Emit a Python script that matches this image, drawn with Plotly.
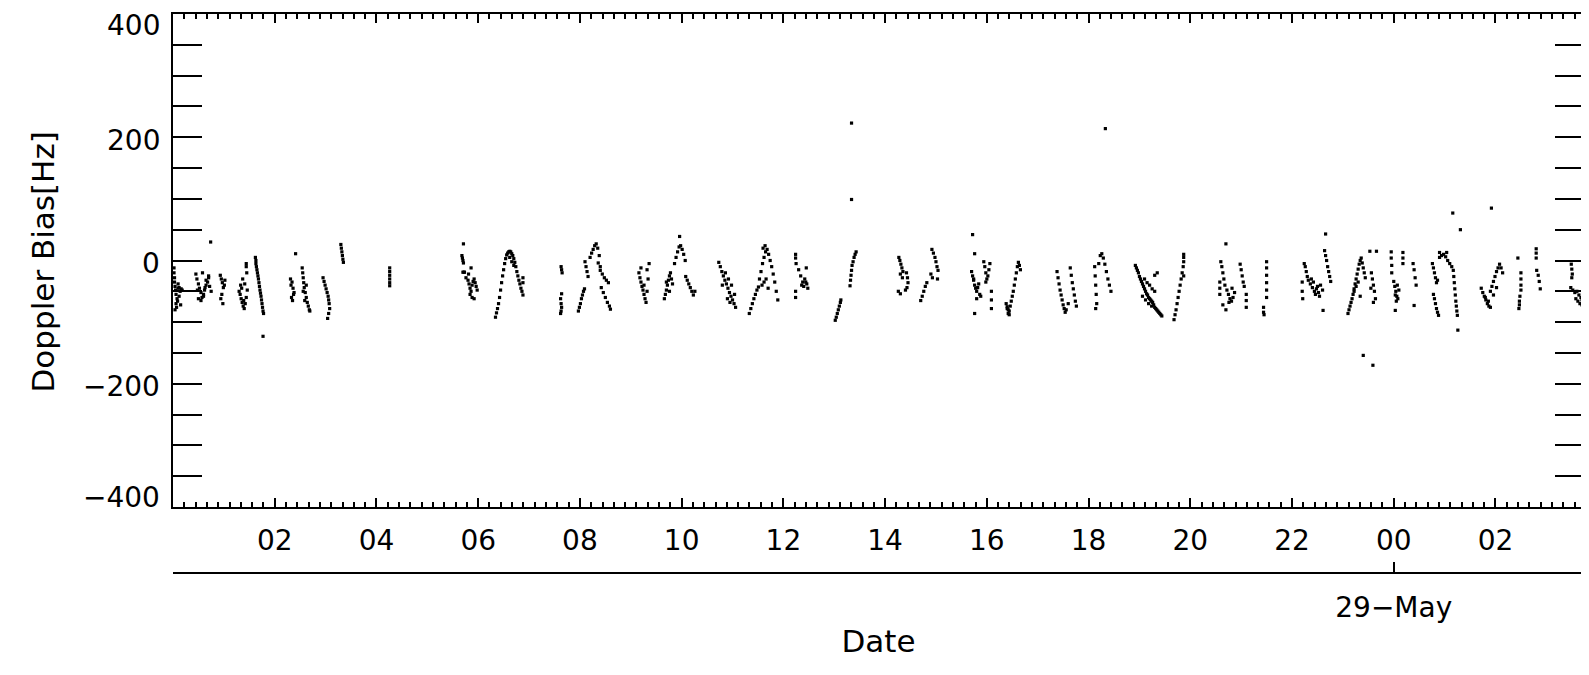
import plotly.graph_objects as go

# ---- data: hours since 28-May 00:00 UT, Doppler bias [Hz] ----
pA_t = [0.02,0.02,0.03,0.03,0.04,0.05,0.06,0.08,0.10,0.12,0.14,0.16,0.06,0.09,0.12,0.15,0.18,0.04,0.07,0.10]
pA_v = [-12,-20,-28,-35,-42,-48,-55,-62,-45,-44,-50,-46,-70,-66,-58,-72,-48,-80,-76,-38]
pB_t = [0.45,0.47,0.50,0.52,0.55,0.57,0.60,0.62,0.65,0.68,0.70,0.72,0.75,0.50,0.55,0.60,0.65,0.70,0.48,0.58,0.63,0.74]
pB_v = [-22,-30,-38,-45,-52,-60,-55,-48,-40,-35,-28,-42,-50,-62,-65,-58,-32,-25,-48,-20,-44,30]
pC_t = [0.93,0.95,0.97,0.99,1.01,1.02,0.96,0.94,0.98]
pC_v = [-24,-30,-36,-44,-40,-32,-55,-62,-70]
pD_t = [1.30,1.32,1.34,1.36,1.38,1.40,1.42,1.44,1.46,1.33,1.37,1.41,1.45,1.44,1.44,1.35,1.39]
pD_v = [-50,-55,-62,-68,-74,-78,-70,-60,-48,-40,-30,-38,-20,-10,-5,-45,-65]
pE_t = [1.62,1.63,1.63,1.64,1.65,1.66,1.67,1.68,1.69,1.70,1.71,1.72,1.73,1.74,1.75,1.76,1.77,1.78,1.77]
pE_v = [5,0,-5,-10,-15,-20,-25,-30,-36,-42,-48,-53,-58,-64,-70,-76,-82,-86,-123]
pF_t = [2.31,2.32,2.34,2.36,2.38,2.33,2.35,2.37,2.54,2.55,2.56,2.57,2.58,2.60,2.62,2.64,2.66,2.68,2.69,2.56,2.59,2.62,2.41]
pF_v = [-30,-40,-35,-45,-52,-60,-65,-55,-12,-20,-28,-36,-44,-52,-60,-68,-74,-80,-82,-50,-65,-40,11]
pG_t = [2.95,2.97,2.99,3.01,3.03,3.05,3.06,3.07,3.08,3.06,3.04]
pG_v = [-28,-34,-40,-46,-52,-58,-64,-70,-78,-86,-94]
pH_t = [3.30,3.31,3.32,3.33,3.34,3.35]
pH_v = [26,20,14,8,2,-3]
pI_t = [4.26,4.26,4.26,4.26,4.26,4.26]
pI_v = [-12,-18,-24,-30,-36,-41]
pJ_t = [5.68,5.69,5.70,5.71,5.72,5.70,5.73,5.76,5.80,5.82,5.84,5.86,5.88,5.90,5.92,5.94,5.96,5.98,5.84,5.88,5.92,5.81,5.86,5.71]
pJ_v = [8,4,0,-4,-19,-19,-19,-28,-32,-38,-45,-50,-40,-34,-30,-36,-42,-48,-55,-60,-62,-22,-12,27]
pK_t = [6.34,6.36,6.38,6.40,6.42,6.44,6.46,6.48,6.50,6.52,6.54,6.56,6.58,6.60,6.62,6.64,6.66,6.68,6.70,6.72,6.74,6.76,6.78,6.80,6.82,6.84,6.86,6.88,6.62,6.66,6.70,6.88,6.88]
pK_v = [-92,-85,-78,-70,-60,-48,-36,-25,-15,-5,3,9,12,14,15,14,11,8,3,-3,-10,-18,-25,-32,-38,-45,-50,-56,5,-2,-8,-28,-36]
pL_t = [7.63,7.64,7.65,7.64,7.62,7.63,7.64,7.63,7.62]
pL_v = [-10,-15,-20,-54,-62,-70,-76,-82,-86]
pM_t = [7.97,7.99,8.01,8.03,8.05,8.07,8.09,8.10,8.12,8.14,8.16,8.20,8.23,8.26,8.29,8.32,8.35,8.38,8.40,8.44,8.48,8.52,8.56,8.42,8.46,8.50,8.54,8.58,8.60,8.36,8.40]
pM_v = [-82,-76,-70,-62,-56,-50,-46,-2,-10,-18,-26,5,12,18,24,27,20,8,-16,-22,-28,-32,-36,-44,-52,-60,-68,-74,-79,-4,-10]
pN_t = [9.16,9.18,9.20,9.22,9.24,9.26,9.28,9.30,9.32,9.34,9.36,9.20,9.26,9.32]
pN_v = [-20,-28,-35,-42,-48,-55,-62,-68,-50,-30,-5,-12,-40,-15]
pO_t = [9.66,9.68,9.70,9.72,9.74,9.76,9.78,9.80,9.82,9.70,9.76,9.86,9.89,9.92,9.95,9.98,10.01,10.04,10.07,10.08,10.11,10.14,10.17,10.20,10.23,10.26,9.96]
pO_v = [-62,-55,-48,-40,-32,-25,-20,-30,-38,-35,-50,-5,5,14,22,24,18,10,0,-26,-32,-38,-44,-50,-56,-50,39]
pP_t = [10.73,10.76,10.79,10.82,10.85,10.88,10.91,10.94,10.97,11.00,11.03,11.06,10.80,10.86,10.92,10.98,11.04,10.90,10.95]
pP_v = [-3,-10,-18,-25,-32,-38,-45,-52,-58,-64,-70,-76,-40,-20,-30,-40,-55,-62,-68]
pQ_t = [11.33,11.36,11.39,11.42,11.45,11.48,11.51,11.53,11.56,11.59,11.62,11.65,11.68,11.71,11.74,11.77,11.80,11.83,11.86,11.89,11.58,11.62,11.66,11.70,11.60,11.64]
pQ_v = [-86,-78,-70,-62,-55,-48,-43,-30,-18,-5,5,14,18,10,0,-10,-22,-35,-50,-64,-40,-35,-30,-45,20,24]
pR_t = [12.24,12.24,12.25,12.30,12.34,12.38,12.42,12.46,12.48,12.36,12.40,12.44,12.24,12.24,12.45]
pR_v = [10,4,-5,-15,-25,-35,-30,-38,-45,-40,-42,-35,-50,-60,-12]
pS_t = [13.02,13.04,13.06,13.08,13.10,13.12,13.13]
pS_v = [-97,-92,-86,-80,-74,-68,-64]
pT_t = [13.31,13.32,13.33,13.34,13.35,13.37,13.39,13.41,13.43,13.34,13.34]
pT_v = [-41,-32,-24,-16,-8,-2,5,10,14,223,99]
pU_t = [14.27,14.29,14.31,14.33,14.35,14.30,14.34,14.26,14.30,14.42,14.44,14.45,14.43,14.40]
pU_v = [5,0,-6,-12,-18,-22,-28,-50,-54,-20,-28,-36,-44,-48]
pV_t = [14.70,14.73,14.76,14.79,14.82,14.92,14.95,14.98,15.00,15.02,15.04,14.90,14.93,15.03]
pV_v = [-65,-58,-50,-42,-36,18,12,5,-2,-10,-16,-22,-28,-30]
pW_t = [15.70,15.72,15.74,15.76,15.78,15.80,15.82,15.84,15.86,15.88,15.74,15.80,15.94,15.96,15.98,16.00,16.02,16.04,16.06,15.98,16.09,16.09,16.09,15.76,15.72,15.76]
pW_v = [-18,-25,-32,-40,-45,-50,-44,-38,-55,-58,-30,-62,-2,-10,-20,-30,-25,-15,-5,-35,-50,-64,-78,-86,42,11]
pX_t = [16.38,16.40,16.42,16.44,16.46,16.48,16.50,16.52,16.54,16.56,16.58,16.60,16.62,16.64,16.66,16.44,16.42,16.40]
pX_v = [-70,-78,-86,-82,-74,-66,-58,-50,-40,-30,-20,-10,-3,-8,-15,-88,-80,-75]
pY_t = [17.38,17.40,17.42,17.44,17.46,17.48,17.50,17.52,17.54,17.64,17.66,17.68,17.70,17.72,17.74,17.76,17.56,17.60]
pY_v = [-18,-28,-38,-48,-56,-64,-72,-78,-84,-12,-24,-36,-46,-56,-66,-74,-80,-70]
pZ_t = [18.12,18.13,18.14,18.15,18.16,18.20,18.23,18.26,18.29,18.32,18.35,18.38,18.41,18.44,18.14,18.33]
pZ_v = [-10,-25,-40,-55,-70,-5,8,11,4,-6,-18,-30,-40,-50,-78,214]
pAA_t = [18.92,18.94,18.96,18.98,19.00,19.02,19.04,19.06,19.08,19.10,19.12,19.14,19.16,19.18,19.20,19.22,19.24,19.26,19.28,19.30,19.32,19.34,19.36,19.38,19.40,19.42,19.44,19.10,19.15,19.20,19.25,19.30,19.06,19.12,19.18,19.24,19.30,19.35]
pAA_v = [-8,-12,-16,-20,-26,-30,-34,-38,-42,-46,-50,-54,-56,-60,-62,-64,-66,-68,-72,-76,-78,-80,-82,-84,-86,-88,-90,-30,-36,-40,-46,-50,-58,-64,-70,-74,-24,-20]
pAB_t = [19.68,19.70,19.72,19.74,19.76,19.78,19.80,19.82,19.84,19.86,19.87,19.87,19.87,19.87]
pAB_v = [-96,-88,-80,-70,-60,-50,-40,-30,-20,-10,-2,5,10,-25]
pAC_t = [20.60,20.62,20.64,20.66,20.68,20.58,20.58,20.58,20.72,20.75,20.78,20.81,20.84,20.87,20.76,20.82,20.98,21.00,21.02,21.04,21.06,21.10,21.10,21.10,20.64,20.70,20.70]
pAC_v = [-2,-10,-20,-30,-40,-35,-45,-55,-48,-55,-62,-66,-60,-52,-68,-45,-6,-15,-25,-35,-42,-55,-65,-76,-72,-80,27]
pAD_t = [21.50,21.50,21.50,21.50,21.50,21.50,21.44,21.44,21.45]
pAD_v = [-2,-12,-24,-36,-48,-60,-76,-84,-88]
pAE_t = [22.20,22.20,22.21,22.24,22.26,22.28,22.30,22.32,22.36,22.40,22.44,22.48,22.52,22.56,22.60,22.38,22.46,22.54,22.42,22.50,22.64,22.66,22.68,22.70,22.72,22.74,22.76,22.61,22.66]
pAE_v = [-35,-50,-62,-5,-10,-18,-26,-32,-38,-44,-50,-46,-52,-40,-48,-30,-55,-58,-35,-42,16,8,0,-10,-18,-26,-34,-81,43]
pAF_t = [23.10,23.12,23.14,23.16,23.18,23.20,23.22,23.24,23.26,23.28,23.30,23.32,23.34,23.36,23.38,23.40,23.42,23.44,23.22,23.26,23.30,23.34,23.56,23.58,23.60,23.62,23.64,23.60,23.55,23.53,23.66,23.40,23.59]
pAF_v = [-86,-80,-74,-68,-62,-55,-46,-38,-30,-22,-14,-6,0,4,-4,-12,-20,-28,-50,-42,-35,-58,-20,-30,-40,-50,-62,-68,-45,15,15,-154,-170]
pAG_t = [23.95,23.95,23.96,23.96,24.00,24.02,24.04,24.06,24.08,24.10,24.03,24.07,24.05,24.18,24.18,24.18,24.38,24.40,24.42,24.44,24.40,24.03]
pAG_v = [14,4,-8,-20,-34,-42,-50,-58,-62,-48,-56,-40,-66,13,4,-5,-5,-15,-28,-40,-73,-81]
pAH_t = [24.76,24.78,24.80,24.82,24.84,24.86,24.78,24.80,24.82,24.84,24.86,24.88,24.90,24.94,24.98,25.02,25.06,25.10,25.14,25.17,25.18,25.19,25.20,25.21,25.22,25.23,25.24,25.25,24.90,25.04,25.16,25.31,25.26]
pAH_v = [-5,-12,-20,-28,-36,-32,-55,-62,-70,-78,-84,-89,5,8,10,6,0,-5,-10,-16,-26,-36,-46,-56,-66,-74,-82,-89,13,13,77,50,-113]
pAI_t = [25.72,25.75,25.78,25.81,25.84,25.87,25.90,25.90,25.93,25.96,25.99,26.02,26.05,26.08,26.11,26.14,25.80,25.86,25.96,26.02,25.92]
pAI_v = [-45,-52,-58,-64,-70,-74,-76,-50,-42,-34,-26,-18,-12,-6,-12,-20,-60,-66,-56,-44,85]
pAJ_t = [26.44,26.50,26.50,26.50,26.50,26.48,26.47,26.47,26.46]
pAJ_v = [4,-20,-30,-40,-48,-58,-66,-72,-78]
pAK_t = [26.80,26.80,26.80,26.81,26.84,26.86,26.88]
pAK_v = [19,12,4,-16,-24,-34,-46]
pAL_t = [27.49,27.50,27.51,27.50,27.48,27.52,27.56,27.60,27.64,27.68,27.70,27.58,27.62,27.66,27.70]
pAL_v = [-6,-14,-22,-28,-44,-48,-52,-50,-56,-60,-64,-62,-66,-70,-72]

passes_t = [pA_t,pB_t,pC_t,pD_t,pE_t,pF_t,pG_t,pH_t,pI_t,pJ_t,pK_t,pL_t,pM_t,pN_t,pO_t,pP_t,pQ_t,pR_t,pS_t,pT_t,pU_t,pV_t,
            pW_t,pX_t,pY_t,pZ_t,pAA_t,pAB_t,pAC_t,pAD_t,pAE_t,pAF_t,pAG_t,pAH_t,pAI_t,pAJ_t,pAK_t,pAL_t]
passes_v = [pA_v,pB_v,pC_v,pD_v,pE_v,pF_v,pG_v,pH_v,pI_v,pJ_v,pK_v,pL_v,pM_v,pN_v,pO_v,pP_v,pQ_v,pR_v,pS_v,pT_v,pU_v,pV_v,
            pW_v,pX_v,pY_v,pZ_v,pAA_v,pAB_v,pAC_v,pAD_v,pAE_v,pAF_v,pAG_v,pAH_v,pAI_v,pAJ_v,pAK_v,pAL_v]

x_tick_vals = [2,4,6,8,10,12,14,16,18,20,22,24,26]
x_tick_text = ["02","04","06","08","10","12","14","16","18","20","22","00","02"]
y_tick_vals = [-400,-200,0,200,400]
y_tick_text = ["\u2212400","\u2212200","0","200","400"]
date_vals = [24]
date_text = ["29\u2212May"]
x_range = [0, 27.74]
y_range = [-400, 400]

t_all = [t for p in passes_t for t in p]
v_all = [v for p in passes_v for v in p]

FONT = "DejaVu Sans"
TICK_SIZE = 28
TITLE_SIZE = 31

fig = go.Figure()
fig.add_trace(go.Scatter(x=t_all, y=v_all, mode="markers",
                         marker=dict(symbol="square", size=3.2, color="black", line=dict(width=0)),
                         hoverinfo="skip", showlegend=False))
# invisible trace to carry the date axis
fig.add_trace(go.Scatter(x=x_range, y=[0, 0], xaxis="x2", yaxis="y", mode="markers",
                         marker=dict(opacity=0), showlegend=False, hoverinfo="skip"))

# y tick labels as annotations (IDL keeps end labels inside the axis span)
annotations = []
for val, txt in zip(y_tick_vals, y_tick_text):
    if val == y_range[1]:
        shift = -11
    elif val == y_range[0]:
        shift = 10
    else:
        shift = -3
    annotations.append(dict(text=txt, xref="paper", yref="y", x=0, y=val, xanchor="right", yanchor="middle",
                            xshift=-11, yshift=shift, showarrow=False,
                            font=dict(family=FONT, size=TICK_SIZE, color="black")))
annotations.append(dict(text="Doppler Bias[Hz]", textangle=-90, xref="paper", yref="y",
                        x=0, y=0, xanchor="center", yanchor="middle", xshift=-131, yshift=-2, showarrow=False,
                        font=dict(family=FONT, size=TITLE_SIZE, color="black")))

# the page body has an 8px margin, so the figure is 8px smaller than the window
fig.update_layout(
    width=1581, height=667,
    margin=dict(l=164.5, r=5, t=6, b=102, autoexpand=False),
    paper_bgcolor="white", plot_bgcolor="white",
    font=dict(family=FONT, size=TICK_SIZE, color="black"),
    xaxis=dict(range=x_range, showline=True, linewidth=2, linecolor="black", mirror="allticks",
               ticks="inside", ticklen=9, tickwidth=1.5, tickcolor="black",
               tickmode="array", tickvals=x_tick_vals, ticktext=x_tick_text,
               showgrid=False, zeroline=False, ticklabelstandoff=7, automargin=False,
               minor=dict(ticks="inside", ticklen=5, tickwidth=1.5, tickcolor="black",
                          tick0=0, dtick=2/9, showgrid=False),
               tickfont=dict(family=FONT, size=TICK_SIZE)),
    xaxis2=dict(range=x_range, overlaying="x", anchor="free", position=0, side="bottom",
                showline=True, linewidth=2, linecolor="black",
                ticks="inside", ticklen=10, tickwidth=1.5, tickcolor="black",
                tickmode="array", tickvals=date_vals, ticktext=date_text,
                showgrid=False, zeroline=False, ticklabelstandoff=9, automargin=False,
                tickfont=dict(family=FONT, size=TICK_SIZE),
                title=dict(text="Date", font=dict(family=FONT, size=TITLE_SIZE), standoff=7)),
    yaxis=dict(range=y_range, domain=[66/559, 1], showline=True, linewidth=2, linecolor="black",
               mirror="allticks", ticks="inside", ticklen=29, tickwidth=1.5, tickcolor="black",
               tickmode="array", tickvals=y_tick_vals, showticklabels=False,
               showgrid=False, zeroline=False, automargin=False,
               minor=dict(ticks="inside", ticklen=15, tickwidth=1.5, tickcolor="black",
                          tick0=0, dtick=50, showgrid=False)),
    annotations=annotations,
)

fig.write_html("out.html")
